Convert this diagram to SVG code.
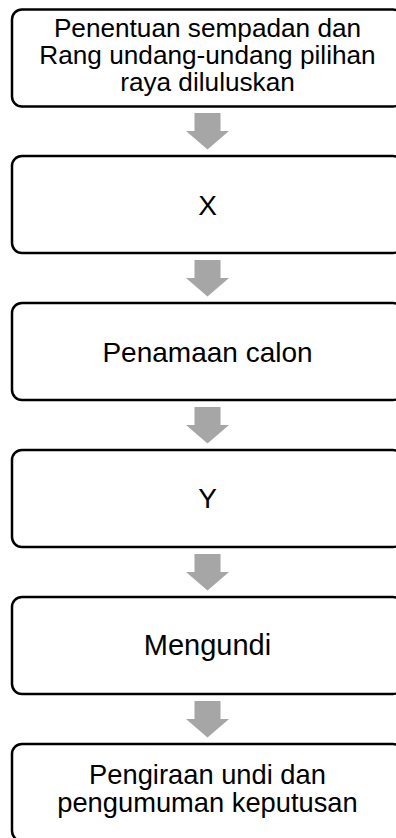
<svg xmlns="http://www.w3.org/2000/svg" width="396" height="838" viewBox="0 0 396 838">
<style>
.box{fill:#ffffff;stroke:#000000;stroke-width:2.5}
.arr{fill:#a6a6a6;stroke:none}
text{font-family:"Liberation Sans",Arial,sans-serif;font-size:28px;fill:#000000;text-anchor:middle}
.t1{font-size:26.2px}
.t5{font-size:29px}
.t6{font-size:27.3px}
</style>
<rect width="396" height="838" fill="#ffffff"/>
<g id="connectors">
<polygon class="arr" points="194.5,113 220.5,113 220.5,131 229,131 207.5,149.5 186,131 194.5,131"/>
<polygon class="arr" points="194.5,260 220.5,260 220.5,278 229,278 207.5,296.5 186,278 194.5,278"/>
<polygon class="arr" points="194.5,407 220.5,407 220.5,425 229,425 207.5,443.5 186,425 194.5,425"/>
<polygon class="arr" points="194.5,554 220.5,554 220.5,572 229,572 207.5,590.5 186,572 194.5,572"/>
<polygon class="arr" points="194.5,701 220.5,701 220.5,719 229,719 207.5,737.5 186,719 194.5,719"/>
</g>
<g id="node1">
<rect class="box" x="12" y="9.5" width="391" height="97" rx="10"/>
<text class="t1" x="207.5" y="36.5">Penentuan sempadan dan</text>
<text class="t1" x="207.5" y="63.5">Rang undang-undang pilihan</text>
<text class="t1" x="207.5" y="90.5">raya diluluskan</text>
</g>
<g id="node2">
<rect class="box" x="12" y="156" width="391" height="97" rx="10"/>
<text x="207.5" y="214.5">X</text>
</g>
<g id="node3">
<rect class="box" x="12" y="303" width="391" height="97" rx="10"/>
<text x="207.5" y="361.5">Penamaan calon</text>
</g>
<g id="node4">
<rect class="box" x="12" y="450" width="391" height="97" rx="10"/>
<text x="207.5" y="508">Y</text>
</g>
<g id="node5">
<rect class="box" x="12" y="597" width="391" height="97" rx="10"/>
<text class="t5" x="207.5" y="655">Mengundi</text>
</g>
<g id="node6">
<rect class="box" x="12" y="744" width="391" height="97" rx="10"/>
<text class="t6" x="207.5" y="783.5">Pengiraan undi dan</text>
<text class="t6" x="207.5" y="811.5">pengumuman keputusan</text>
</g>
</svg>
